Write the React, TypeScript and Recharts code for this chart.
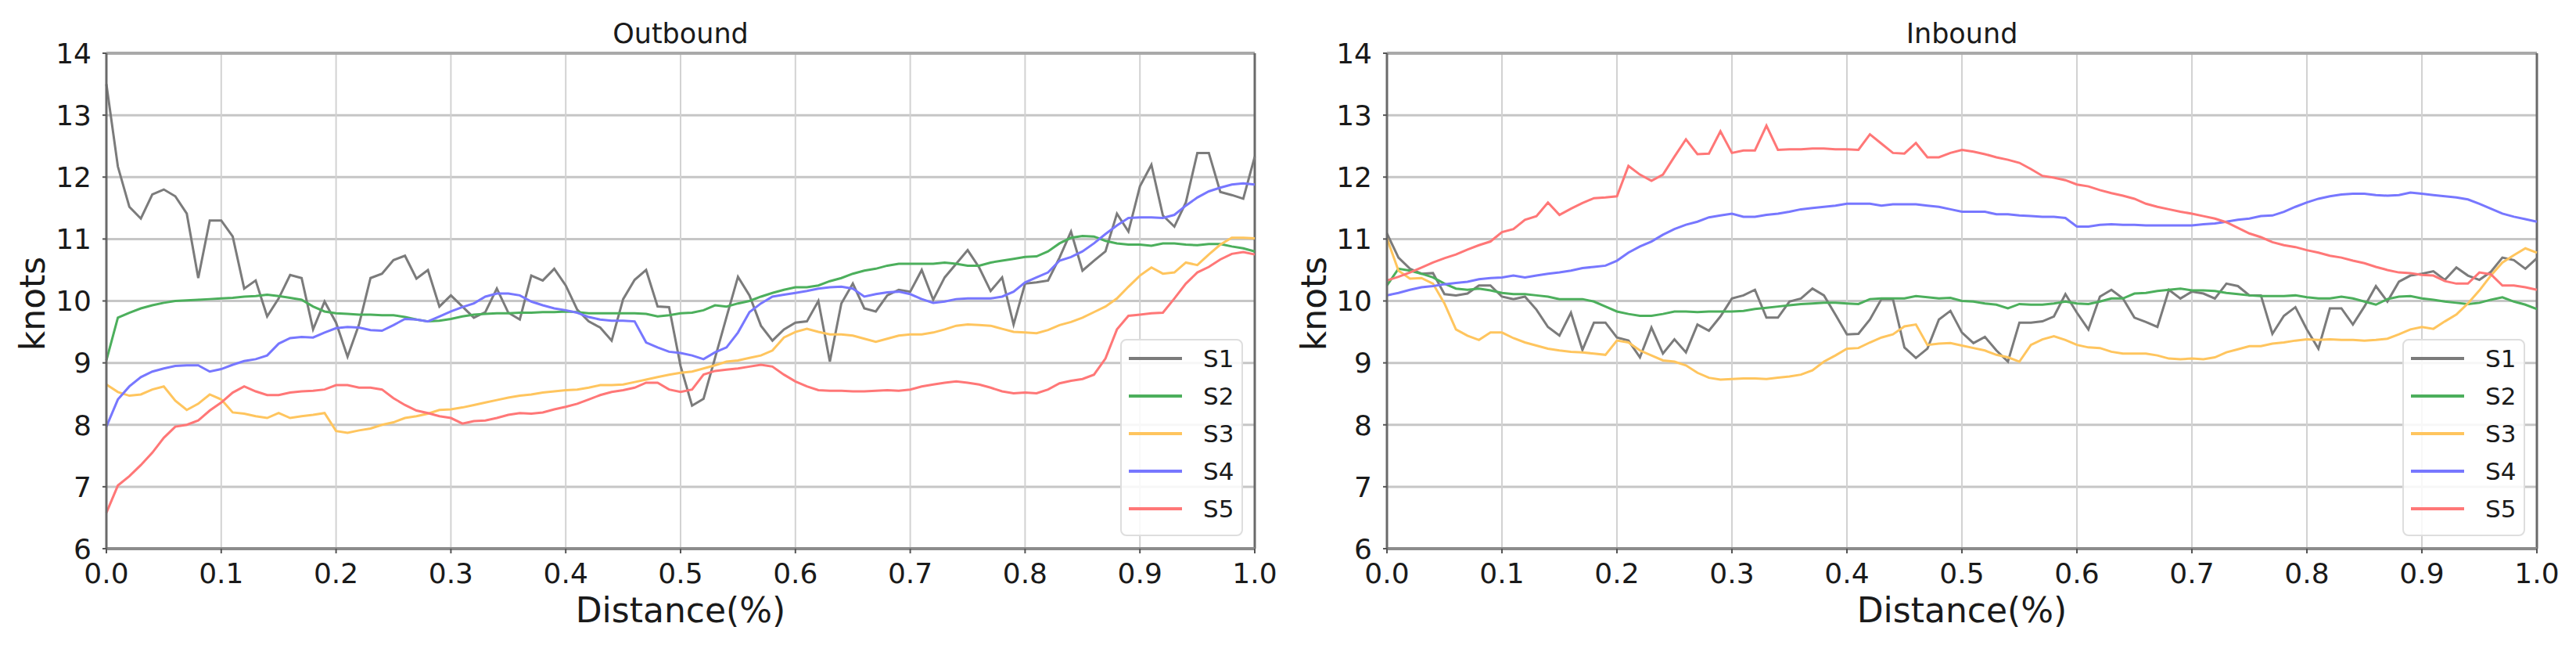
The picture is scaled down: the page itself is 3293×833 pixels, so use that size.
import React from 'react';
import {
  LineChart,
  Line,
  XAxis,
  YAxis,
  CartesianGrid,
  ReferenceLine,
  Legend,
} from 'recharts';

const DISTANCE = [
  0, 0.01, 0.02, 0.03, 0.04, 0.05, 0.06, 0.07, 0.08, 0.09,
  0.1, 0.11, 0.12, 0.13, 0.14, 0.15, 0.16, 0.17, 0.18, 0.19,
  0.2, 0.21, 0.22, 0.23, 0.24, 0.25, 0.26, 0.27, 0.28, 0.29,
  0.3, 0.31, 0.32, 0.33, 0.34, 0.35, 0.36, 0.37, 0.38, 0.39,
  0.4, 0.41, 0.42, 0.43, 0.44, 0.45, 0.46, 0.47, 0.48, 0.49,
  0.5, 0.51, 0.52, 0.53, 0.54, 0.55, 0.56, 0.57, 0.58, 0.59,
  0.6, 0.61, 0.62, 0.63, 0.64, 0.65, 0.66, 0.67, 0.68, 0.69,
  0.7, 0.71, 0.72, 0.73, 0.74, 0.75, 0.76, 0.77, 0.78, 0.79,
  0.8, 0.81, 0.82, 0.83, 0.84, 0.85, 0.86, 0.87, 0.88, 0.89,
  0.9, 0.91, 0.92, 0.93, 0.94, 0.95, 0.96, 0.97, 0.98, 0.99,
  1.0,
];

// ---------- Outbound ----------
const OUT_S1 = [
  13.5, 12.17, 11.52, 11.33, 11.72, 11.8, 11.69, 11.41, 10.37, 11.3,
  11.3, 11.04, 10.2, 10.33, 9.75, 10.04, 10.42, 10.37, 9.54, 9.99,
  9.65, 9.1, 9.62, 10.37, 10.44, 10.66, 10.73, 10.36, 10.5, 9.91,
  10.09, 9.91, 9.73, 9.82, 10.2, 9.81, 9.7, 10.41, 10.33, 10.52,
  10.25, 9.86, 9.67, 9.57, 9.36, 10.03, 10.34, 10.5, 9.91, 9.9,
  8.95, 8.31, 8.42, 9.08, 9.74, 10.39, 10.09, 9.6, 9.36, 9.54,
  9.65, 9.67, 10.0, 9.02, 9.96, 10.28, 9.88, 9.83, 10.09, 10.18,
  10.15, 10.5, 10.02, 10.38, 10.6, 10.82, 10.54, 10.16, 10.38, 9.62,
  10.28, 10.3, 10.33, 10.7, 11.12, 10.49, 10.65, 10.8, 11.41, 11.12,
  11.85, 12.2, 11.38, 11.2, 11.59, 12.39, 12.39, 11.76, 11.71, 11.65,
  12.33,
];
const OUT_S2 = [
  9.04, 9.73, 9.81, 9.88, 9.93, 9.97, 10.0, 10.01, 10.02, 10.03,
  10.04, 10.05, 10.07, 10.08, 10.1, 10.08, 10.05, 10.02, 9.91, 9.83,
  9.8, 9.79, 9.78, 9.78, 9.77, 9.77, 9.74, 9.7, 9.67, 9.68,
  9.71, 9.75, 9.78, 9.79, 9.8, 9.8, 9.81, 9.81, 9.82, 9.82,
  9.83, 9.82, 9.8, 9.8, 9.8, 9.8, 9.8, 9.79, 9.75, 9.77,
  9.8, 9.81, 9.85, 9.93, 9.91, 9.96, 10.0, 10.07, 10.13, 10.18,
  10.22, 10.22, 10.25, 10.32, 10.37, 10.44, 10.49, 10.52, 10.57, 10.6,
  10.6, 10.6, 10.6, 10.62, 10.6, 10.57, 10.57, 10.62, 10.65, 10.68,
  10.71, 10.72, 10.8, 10.93, 11.02, 11.05, 11.04, 10.97, 10.93, 10.91,
  10.91, 10.89, 10.93, 10.93, 10.91, 10.9, 10.92, 10.92, 10.88, 10.85,
  10.8,
];
const OUT_S3 = [
  8.65, 8.53, 8.47, 8.49, 8.57, 8.62, 8.39, 8.24, 8.34, 8.49,
  8.41, 8.2, 8.18, 8.14, 8.11, 8.19, 8.11, 8.14, 8.16, 8.19,
  7.9, 7.87, 7.91, 7.94, 8.0, 8.04, 8.11, 8.14, 8.18, 8.24,
  8.25, 8.28, 8.32, 8.36, 8.4, 8.44, 8.47, 8.49, 8.52, 8.54,
  8.56, 8.57, 8.6, 8.64, 8.64, 8.65, 8.69, 8.73, 8.77, 8.81,
  8.84, 8.86, 8.91, 8.96, 9.02, 9.04, 9.08, 9.12, 9.2, 9.41,
  9.5, 9.55, 9.5, 9.46, 9.46, 9.44, 9.39, 9.34, 9.39, 9.44,
  9.46, 9.46, 9.49, 9.54, 9.6, 9.62, 9.61, 9.6, 9.55, 9.5,
  9.49, 9.48, 9.53, 9.61, 9.66, 9.73, 9.82, 9.91, 10.04, 10.23,
  10.41, 10.54, 10.44, 10.46, 10.62, 10.58, 10.75, 10.91, 11.02, 11.02,
  11.01,
];
const OUT_S4 = [
  7.97, 8.41, 8.62, 8.77, 8.86, 8.91, 8.95, 8.96, 8.96, 8.86,
  8.9, 8.97, 9.03, 9.06, 9.12, 9.31, 9.4, 9.42, 9.41, 9.49,
  9.56, 9.58, 9.57, 9.53, 9.52, 9.61, 9.71, 9.7, 9.67, 9.75,
  9.83, 9.9, 9.96, 10.07, 10.12, 10.12, 10.09, 9.99, 9.93, 9.88,
  9.85, 9.81, 9.74, 9.7, 9.68, 9.68, 9.67, 9.33, 9.25, 9.18,
  9.16, 9.12, 9.06, 9.17, 9.25, 9.49, 9.82, 9.96, 10.07, 10.1,
  10.13, 10.16, 10.2, 10.22, 10.23, 10.2, 10.07, 10.11, 10.14, 10.15,
  10.11, 10.03, 9.97, 9.99, 10.03, 10.04, 10.04, 10.04, 10.07, 10.15,
  10.3, 10.38, 10.46, 10.65, 10.71, 10.8, 10.93, 11.08, 11.22, 11.34,
  11.35, 11.35, 11.34, 11.39, 11.54, 11.67, 11.77, 11.83, 11.88, 11.9,
  11.88,
];
const OUT_S5 = [
  6.58, 7.02, 7.17, 7.35, 7.55, 7.79, 7.97, 8.0, 8.07, 8.23,
  8.36, 8.52, 8.62, 8.54, 8.48, 8.48, 8.52, 8.54, 8.55, 8.57,
  8.64, 8.64, 8.6, 8.6, 8.57, 8.43, 8.32, 8.23, 8.19, 8.14,
  8.11, 8.02, 8.06, 8.07, 8.11, 8.16, 8.19, 8.18, 8.2, 8.25,
  8.29, 8.34, 8.41, 8.48, 8.53, 8.56, 8.6, 8.68, 8.68, 8.57,
  8.53, 8.57, 8.81, 8.87, 8.89, 8.91, 8.94, 8.97, 8.94, 8.81,
  8.7, 8.62, 8.56, 8.55, 8.55, 8.54, 8.54, 8.55, 8.56, 8.55,
  8.57, 8.62, 8.65, 8.68, 8.7, 8.68, 8.65, 8.6, 8.54, 8.51,
  8.52, 8.51, 8.57, 8.67, 8.71, 8.74, 8.81, 9.07, 9.54, 9.76,
  9.78, 9.8, 9.81, 10.04, 10.28, 10.46, 10.55, 10.67, 10.76, 10.79,
  10.75,
];

// ---------- Inbound ----------
const IN_S1 = [
  11.09, 10.7, 10.52, 10.44, 10.45, 10.11, 10.09, 10.12, 10.25, 10.25,
  10.07, 10.03, 10.07, 9.86, 9.58, 9.44, 9.81, 9.21, 9.65, 9.65,
  9.41, 9.36, 9.09, 9.57, 9.15, 9.38, 9.17, 9.62, 9.52, 9.75,
  10.04, 10.09, 10.18, 9.73, 9.73, 9.99, 10.04, 10.2, 10.09, 9.78,
  9.46, 9.47, 9.7, 10.03, 10.03, 9.25, 9.08, 9.23, 9.7, 9.84,
  9.49, 9.32, 9.42, 9.2, 9.02, 9.65, 9.65, 9.67, 9.75, 10.11,
  9.81, 9.54, 10.07, 10.18, 10.04, 9.73, 9.66, 9.58, 10.18, 10.04,
  10.15, 10.12, 10.04, 10.28, 10.24, 10.09, 10.09, 9.47, 9.76, 9.9,
  9.54, 9.23, 9.88, 9.88, 9.62, 9.91, 10.24, 9.99, 10.31, 10.41,
  10.44, 10.48, 10.34, 10.54, 10.41, 10.34, 10.47, 10.7, 10.66, 10.52,
  10.69,
];
const IN_S2 = [
  10.25, 10.52, 10.49, 10.44, 10.38, 10.28, 10.2, 10.18, 10.2, 10.17,
  10.13, 10.11, 10.11, 10.09, 10.07, 10.03, 10.03, 10.03, 9.99, 9.91,
  9.83, 9.79, 9.76, 9.76, 9.79, 9.83, 9.83, 9.82, 9.83, 9.83,
  9.83, 9.84, 9.87, 9.89, 9.91, 9.93, 9.95, 9.96, 9.97, 9.97,
  9.96, 9.95, 10.03, 10.04, 10.04, 10.04, 10.08, 10.06, 10.04, 10.05,
  10.0, 9.99, 9.96, 9.94, 9.88, 9.95, 9.94, 9.94, 9.96, 9.99,
  9.96, 9.95, 9.99, 10.04, 10.04, 10.12, 10.13, 10.16, 10.18, 10.2,
  10.17, 10.17, 10.16, 10.13, 10.11, 10.09, 10.08, 10.08, 10.08, 10.09,
  10.06, 10.04, 10.04, 10.07, 10.04, 9.99, 9.94, 10.03, 10.07, 10.08,
  10.04, 10.02, 9.99, 9.97, 9.95, 9.97, 10.02, 10.06, 9.99, 9.94,
  9.87,
];
const IN_S3 = [
  11.01, 10.49, 10.36, 10.37, 10.28, 9.96, 9.54, 9.44, 9.37, 9.49,
  9.49, 9.4, 9.33, 9.28, 9.23, 9.2, 9.18, 9.17, 9.15, 9.13,
  9.36, 9.33, 9.2, 9.12, 9.04, 9.02, 8.96, 8.84, 8.76, 8.73,
  8.74, 8.75, 8.75, 8.74, 8.76, 8.78, 8.81, 8.88, 9.02, 9.12,
  9.23, 9.24, 9.33, 9.41, 9.46, 9.59, 9.62, 9.29, 9.31, 9.32,
  9.28, 9.24, 9.2, 9.13, 9.09, 9.02, 9.29, 9.38, 9.43, 9.37,
  9.29, 9.25, 9.24, 9.18, 9.15, 9.15, 9.15, 9.12, 9.07, 9.06,
  9.07, 9.06, 9.09, 9.17, 9.22, 9.27, 9.27, 9.31, 9.33, 9.36,
  9.38, 9.37, 9.38, 9.37, 9.37, 9.36, 9.37, 9.39, 9.46, 9.54,
  9.58, 9.55, 9.67, 9.78, 9.96, 10.17, 10.41, 10.62, 10.74, 10.85,
  10.78,
];
const IN_S4 = [
  10.09, 10.13, 10.18, 10.22, 10.24, 10.27, 10.29, 10.31, 10.35, 10.37,
  10.38, 10.41, 10.38, 10.41, 10.44, 10.46, 10.49, 10.53, 10.55, 10.57,
  10.65, 10.78, 10.88, 10.96, 11.07, 11.16, 11.23, 11.28, 11.35, 11.38,
  11.41, 11.36, 11.36, 11.39, 11.41, 11.44, 11.48, 11.5, 11.52, 11.54,
  11.57, 11.57, 11.57, 11.54, 11.56, 11.56, 11.56, 11.54, 11.52, 11.48,
  11.44, 11.44, 11.44, 11.4, 11.4, 11.38, 11.37, 11.36, 11.36, 11.34,
  11.2, 11.2, 11.23, 11.24, 11.23, 11.23, 11.22, 11.22, 11.22, 11.22,
  11.22, 11.24, 11.25, 11.28, 11.31, 11.33, 11.37, 11.38, 11.44, 11.52,
  11.59, 11.65, 11.69, 11.72, 11.73, 11.73, 11.71, 11.7, 11.71, 11.75,
  11.73, 11.71, 11.69, 11.67, 11.64, 11.57, 11.49, 11.41, 11.36, 11.32,
  11.28,
];
const IN_S5 = [
  10.33, 10.39, 10.46, 10.54, 10.62, 10.69, 10.75, 10.83, 10.9, 10.96,
  11.11, 11.16, 11.31, 11.37, 11.59, 11.39, 11.49, 11.58, 11.66, 11.67,
  11.69, 12.18, 12.04, 11.94, 12.04, 12.33, 12.61, 12.37, 12.38, 12.74,
  12.39, 12.43, 12.43, 12.83, 12.44, 12.45, 12.45, 12.46, 12.46, 12.45,
  12.45, 12.44, 12.69, 12.54, 12.39, 12.38, 12.55, 12.32, 12.32, 12.39,
  12.44, 12.41, 12.37, 12.32, 12.28, 12.23, 12.13, 12.02, 11.99, 11.95,
  11.88, 11.85, 11.79, 11.74, 11.7, 11.65, 11.57, 11.52, 11.48, 11.44,
  11.41, 11.37, 11.33, 11.27, 11.18, 11.09, 11.03, 10.95, 10.9, 10.87,
  10.82, 10.78, 10.73, 10.7, 10.65, 10.61, 10.55, 10.5, 10.46, 10.45,
  10.42, 10.41, 10.32, 10.28, 10.28, 10.46, 10.43, 10.25, 10.25, 10.22,
  10.18,
];

const X_TICKS = [0, 0.1, 0.2, 0.3, 0.4, 0.5, 0.6, 0.7, 0.8, 0.9, 1.0];
const Y_TICKS = [6, 7, 8, 9, 10, 11, 12, 13, 14];
const SERIES_NAMES = ['S1', 'S2', 'S3', 'S4', 'S5'];
const SERIES_COLORS = ['#7b7b7b', '#4caf5c', '#ffc55e', '#7777ff', '#ff7777'];

const FONT = "'DejaVu Sans', Verdana, sans-serif";
const TEXT = '#1a1a1a';

function buildRows(series: number[][]) {
  return DISTANCE.map((d, i) => {
    const row: Record<string, number> = { d };
    SERIES_NAMES.forEach((name, k) => {
      row[name] = series[k][i];
    });
    return row;
  });
}

const OUT_ROWS = buildRows([OUT_S1, OUT_S2, OUT_S3, OUT_S4, OUT_S5]);
const IN_ROWS = buildRows([IN_S1, IN_S2, IN_S3, IN_S4, IN_S5]);

const LegendBox = () => (
  <div
    style={{
      width: 157,
      height: 252,
      boxSizing: 'border-box',
      border: '2px solid #dedede',
      borderRadius: 8,
      background: 'rgba(255,255,255,0.85)',
    }}
  >
    <svg width={153} height={248} style={{ display: 'block' }}>
      {SERIES_NAMES.map((name, k) => {
        const y = 23 + k * 48;
        return (
          <g key={name}>
            <line
              x1={9}
              x2={77}
              y1={y}
              y2={y}
              stroke={SERIES_COLORS[k]}
              strokeWidth={4}
            />
            <text
              x={104}
              y={y + 11}
              fontSize={31}
              fontFamily={FONT}
              fill={TEXT}
            >
              {name}
            </text>
          </g>
        );
      })}
    </svg>
  </div>
);

type PanelProps = {
  left: number;
  width: number;
  yAxisWidth: number;
  marginRight: number;
  legendLeft: number;
  data: Record<string, number>[];
};

const Panel = ({ left, width, yAxisWidth, marginRight, legendLeft, data }: PanelProps) => (
  <div style={{ position: 'absolute', left, top: 0, width, height: 833 }}>
    <LineChart
      width={width}
      height={833}
      data={data}
      margin={{ top: 68, right: marginRight, bottom: 0, left: 0 }}
    >
      <CartesianGrid horizontal vertical={false} stroke="#c6c6c6" strokeWidth={3} />
      <CartesianGrid horizontal={false} vertical stroke="#d2d2d2" strokeWidth={2} />
      <XAxis
        dataKey="d"
        type="number"
        domain={[0, 1]}
        ticks={X_TICKS}
        interval={0}
        height={132}
        tickFormatter={(v: number) => v.toFixed(1)}
        tick={{ fontSize: 36, fill: TEXT, fontFamily: FONT }}
        tickSize={6}
        tickMargin={12}
        axisLine={{ stroke: '#8c8c8c', strokeWidth: 4 }}
        tickLine={{ stroke: '#555', strokeWidth: 2 }}
      />
      <YAxis
        type="number"
        domain={[6, 14]}
        ticks={Y_TICKS}
        interval={0}
        width={yAxisWidth}
        tick={{ fontSize: 36, fill: TEXT, fontFamily: FONT }}
        tickSize={5}
        tickMargin={14}
        axisLine={{ stroke: '#6a6a6a', strokeWidth: 3 }}
        tickLine={{ stroke: '#555', strokeWidth: 2 }}
      />
      <ReferenceLine y={14} stroke="#a9a9a9" strokeWidth={4} />
      <ReferenceLine x={1} stroke="#6a6a6a" strokeWidth={3} />
      {SERIES_NAMES.map((name, k) => (
        <Line
          key={name}
          type="linear"
          dataKey={name}
          stroke={SERIES_COLORS[k]}
          strokeWidth={3}
          dot={false}
          activeDot={false}
          isAnimationActive={false}
        />
      ))}
      <Legend
        layout="vertical"
        align="center"
        verticalAlign="middle"
        wrapperStyle={{ left: legendLeft, top: 433, width: 157, height: 252 }}
        content={() => <LegendBox />}
      />
    </LineChart>
  </div>
);

const Labels = () => (
  <svg
    width={3293}
    height={833}
    style={{ position: 'absolute', left: 0, top: 0, pointerEvents: 'none' }}
  >
    <text x={870} y={55} textAnchor="middle" fontSize={35} fontFamily={FONT} fill={TEXT}>
      Outbound
    </text>
    <text x={2508} y={55} textAnchor="middle" fontSize={35} fontFamily={FONT} fill={TEXT}>
      Inbound
    </text>
    <text x={870} y={795} textAnchor="middle" fontSize={44} fontFamily={FONT} fill={TEXT}>
      Distance(%)
    </text>
    <text x={2508} y={795} textAnchor="middle" fontSize={44} fontFamily={FONT} fill={TEXT}>
      Distance(%)
    </text>
    <text
      transform="translate(57,388) rotate(-90)"
      textAnchor="middle"
      fontSize={44}
      fontFamily={FONT}
      fill={TEXT}
    >
      knots
    </text>
    <text
      transform="translate(1695,388) rotate(-90)"
      textAnchor="middle"
      fontSize={44}
      fontFamily={FONT}
      fill={TEXT}
    >
      knots
    </text>
  </svg>
);

export default function App() {
  return (
    <div
      style={{
        position: 'absolute',
        left: 0,
        top: 0,
        width: 3293,
        height: 833,
        background: '#ffffff',
        overflow: 'hidden',
      }}
    >
      <Panel
        left={0}
        width={1650}
        yAxisWidth={136}
        marginRight={46}
        legendLeft={1432}
        data={OUT_ROWS}
      />
      <Panel
        left={1650}
        width={1643}
        yAxisWidth={123}
        marginRight={50}
        legendLeft={1421}
        data={IN_ROWS}
      />
      <Labels />
    </div>
  );
}
